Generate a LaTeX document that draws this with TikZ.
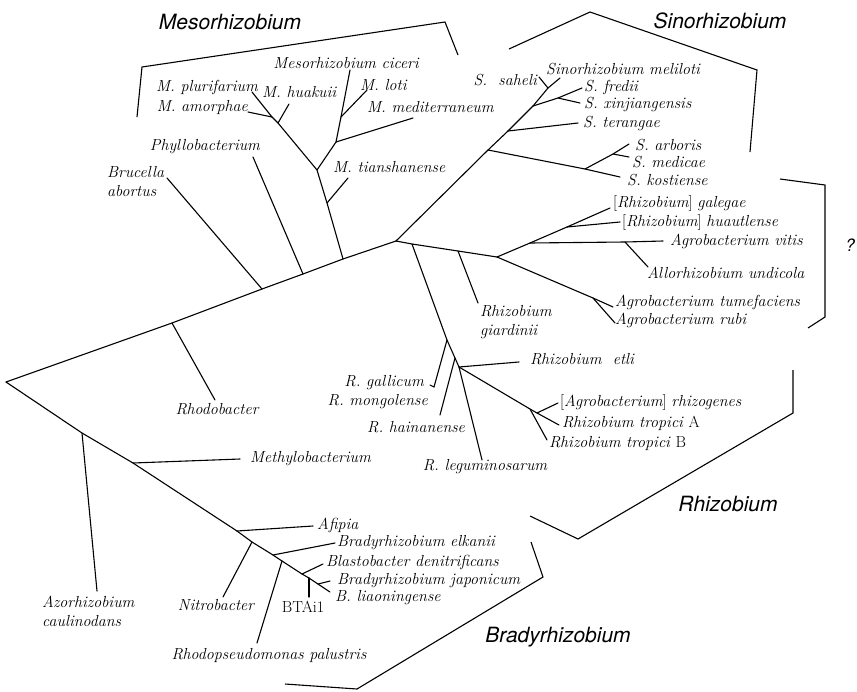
\documentclass[tikz,border=0pt]{standalone}
\usepackage{fontspec}
\setsansfont{TeX Gyre Heros}

\begin{document}
\begin{tikzpicture}[x=1pt, y=-1pt,
    branch/.style={line width=1.1pt, line cap=round},
    clade/.style={line width=1.1pt, line join=miter},
    taxon/.style={inner sep=0pt, font=\fontsize{16}{19}\selectfont\itshape},
    group/.style={inner sep=0pt, font=\fontsize{21}{24}\selectfont\sffamily\itshape}]
    \useasboundingbox (0,0) rectangle (857,691);

    % inner nodes of the tree
    \coordinate (root) at (6,382);
    \coordinate (rho) at (172,323);
    \coordinate (bru) at (262,289);
    \coordinate (phy) at (303,274);
    \coordinate (meso) at (343,259);
    \coordinate (hub) at (396,241);
    \coordinate (m1) at (327,203);
    \coordinate (m2) at (317,170);
    \coordinate (m3) at (336,142);
    \coordinate (m4) at (341,117);
    \coordinate (m5) at (278,123);
    \coordinate (m6) at (272,117);
    \coordinate (s1) at (488,150);
    \coordinate (s2) at (508,131);
    \coordinate (s3) at (533,106);
    \coordinate (s4) at (548,88);
    \coordinate (s5) at (558,98);
    \coordinate (s6) at (585,169);
    \coordinate (s7) at (613,154);
    \coordinate (r1) at (412,244);
    \coordinate (r2) at (447,340);
    \coordinate (r3) at (455,358);
    \coordinate (r4) at (459,367);
    \coordinate (r5) at (458,251);
    \coordinate (r6) at (497,257);
    \coordinate (rg) at (434,387);
    \coordinate (t1) at (530,409);
    \coordinate (t2) at (537,413);
    \coordinate (a1) at (593,298);
    \coordinate (a2) at (530,243);
    \coordinate (a3) at (567,227);
    \coordinate (a4) at (625,242);
    \coordinate (az) at (82,433);
    \coordinate (me) at (133,463);
    \coordinate (b1) at (237,531);
    \coordinate (b2) at (252,542);
    \coordinate (b3) at (273,555);
    \coordinate (b4) at (282,561);
    \coordinate (b5) at (302,574);
    \coordinate (b6) at (309,578);
    \coordinate (b7) at (318,584);

    % tips
    \coordinate (t-rho) at (215,400);
    \coordinate (t-bru) at (167,178);
    \coordinate (t-phy) at (253,157);
    \coordinate (t-tia) at (348,178);
    \coordinate (t-med) at (413,118);
    \coordinate (t-lot) at (367,90);
    \coordinate (t-cic) at (350,70);
    \coordinate (t-hua) at (289,104);
    \coordinate (t-amo) at (248,112);
    \coordinate (t-plu) at (252,92);
    \coordinate (t-sah) at (539,77);
    \coordinate (t-mel) at (560,78);
    \coordinate (t-fre) at (582,88);
    \coordinate (t-xin) at (580,103);
    \coordinate (t-ter) at (578,123);
    \coordinate (t-kos) at (620,177);
    \coordinate (t-arb) at (629,144);
    \coordinate (t-mdc) at (629,157);
    \coordinate (t-gia) at (478,303);
    \coordinate (t-gal) at (430,385);
    \coordinate (t-hai) at (440,415);
    \coordinate (t-etl) at (519,362);
    \coordinate (t-leg) at (482,460);
    \coordinate (t-rhg) at (558,403);
    \coordinate (t-tra) at (559,425);
    \coordinate (t-trb) at (547,440);
    \coordinate (t-tum) at (613,307);
    \coordinate (t-rub) at (615,323);
    \coordinate (t-gle) at (610,208);
    \coordinate (t-hut) at (620,222);
    \coordinate (t-vit) at (663,241);
    \coordinate (t-und) at (648,267);
    \coordinate (t-azo) at (97,591);
    \coordinate (t-met) at (240,459);
    \coordinate (t-afi) at (313,526);
    \coordinate (t-nit) at (223,597);
    \coordinate (t-elk) at (335,543);
    \coordinate (t-pal) at (257,643);
    \coordinate (t-bla) at (323,564);
    \coordinate (t-bta) at (309,597);
    \coordinate (t-jap) at (330,581);
    \coordinate (t-lia) at (330,592);

    % branches
    \draw[branch] (root) -- (rho) -- (bru) -- (phy) -- (meso) -- (hub);
    \draw[branch] (rho) -- (t-rho);
    \draw[branch] (bru) -- (t-bru);
    \draw[branch] (phy) -- (t-phy);
    \draw[branch] (meso) -- (m1) -- (m2) -- (m3) -- (m4) -- (t-cic);
    \draw[branch] (m1) -- (t-tia);
    \draw[branch] (m3) -- (t-med);
    \draw[branch] (m4) -- (t-lot);
    \draw[branch] (m2) -- (m5) -- (m6) -- (t-plu);
    \draw[branch] (m5) -- (t-hua);
    \draw[branch] (m6) -- (t-amo);
    \draw[branch] (hub) -- (s1) -- (s2) -- (s3) -- (s4) -- (t-mel);
    \draw[branch] (s4) -- (t-sah);
    \draw[branch] (s3) -- (s5) -- (t-fre);
    \draw[branch] (s5) -- (t-xin);
    \draw[branch] (s2) -- (t-ter);
    \draw[branch] (s1) -- (s6) -- (t-kos);
    \draw[branch] (s6) -- (s7) -- (t-arb);
    \draw[branch] (s7) -- (t-mdc);
    \draw[branch] (hub) -- (r1) -- (r5) -- (r6);
    \draw[branch] (r5) -- (t-gia);
    \draw[branch] (r1) -- (r2) -- (r3) -- (r4) -- (t-leg);
    \draw[branch] (r2) -- (rg) -- (t-gal);
    \draw[branch] (r3) -- (t-hai);
    \draw[branch] (r4) -- (t-etl);
    \draw[branch] (r4) -- (t1) -- (t2) -- (t-tra);
    \draw[branch] (t2) -- (t-rhg);
    \draw[branch] (t1) -- (t-trb);
    \draw[branch] (r6) -- (a1) -- (t-tum);
    \draw[branch] (a1) -- (t-rub);
    \draw[branch] (r6) -- (a2) -- (a3) -- (t-gle);
    \draw[branch] (a3) -- (t-hut);
    \draw[branch] (a2) -- (a4) -- (t-vit);
    \draw[branch] (a4) -- (t-und);
    \draw[branch] (root) -- (az) -- (me) -- (b1) -- (b2) -- (b3) -- (b4) -- (b5) -- (b6) -- (b7) -- (t-lia);
    \draw[branch] (az) -- (t-azo);
    \draw[branch] (me) -- (t-met);
    \draw[branch] (b1) -- (t-afi);
    \draw[branch] (b2) -- (t-nit);
    \draw[branch] (b3) -- (t-elk);
    \draw[branch] (b4) -- (t-pal);
    \draw[branch] (b5) -- (t-bla);
    \draw[branch] (b6) -- (t-bta);
    \draw[branch] (b7) -- (t-jap);

    % taxon names
    \node[taxon] (l-rho) at (217,409) {Rhodobacter};
    \node[taxon, align=left, anchor=west] (l-bru) at (107,182) {Brucella\\abortus};
    \node[taxon] (l-phy) at (205,147) {Phyllobacterium};
    \node[taxon, anchor=west] (l-tia) at (333,167) {M. tianshanense};
    \node[taxon, anchor=west] (l-med) at (367,107) {M. mediterraneum};
    \node[taxon, anchor=west] (l-lot) at (360,85) {M. loti};
    \node[taxon] (l-cic) at (346,63) {Mesorhizobium ciceri};
    \node[taxon, anchor=west] (l-hua) at (262,92) {M. huakuii};
    \node[taxon, anchor=east] (l-amo) at (248,107) {M. amorphae};
    \node[taxon, anchor=east] (l-plu) at (258,87) {M. plurifarium};
    \node[taxon, anchor=east] (l-sah) at (537,80) {S.\ \ saheli};
    \node[taxon, anchor=west] (l-mel) at (546,69) {Sinorhizobium meliloti};
    \node[taxon, anchor=west] (l-fre) at (584,87) {S. fredii};
    \node[taxon, anchor=west] (l-xin) at (584,104) {S. xinjiangensis};
    \node[taxon, anchor=west] (l-ter) at (583,123) {S. terangae};
    \node[taxon, anchor=west] (l-arb) at (635,145) {S. arboris};
    \node[taxon, anchor=west] (l-mdc) at (632,162) {S. medicae};
    \node[taxon, anchor=west] (l-kos) at (627,180) {S. kostiense};
    \node[taxon, anchor=west] (l-gle) at (613,203) {\upshape[\itshape Rhizobium\upshape] \itshape galegae};
    \node[taxon, anchor=west] (l-hut) at (622,222) {\upshape[\itshape Rhizobium\upshape] \itshape huautlense};
    \node[taxon, anchor=west] (l-vit) at (670,241) {Agrobacterium vitis};
    \node[taxon, anchor=west] (l-und) at (647,273) {Allorhizobium undicola};
    \node[taxon, anchor=west] (l-tum) at (615,302) {Agrobacterium tumefaciens};
    \node[taxon, anchor=west] (l-rub) at (615,320) {Agrobacterium rubi};
    \node[taxon, align=left, anchor=west] (l-gia) at (480,322) {Rhizobium\\giardinii};
    \node[taxon, anchor=west] (l-etl) at (530,359) {Rhizobium\ \ etli};
    \node[taxon, anchor=east] (l-gal) at (424,383) {R. gallicum};
    \node[taxon, anchor=east] (l-mon) at (428,402) {R. mongolense};
    \node[taxon] (l-hai) at (416,427) {R. hainanense};
    \node[taxon] (l-leg) at (485,467) {R. leguminosarum};
    \node[taxon, anchor=west] (l-rhg) at (560,402) {\upshape[\itshape Agrobacterium\upshape] \itshape rhizogenes};
    \node[taxon, anchor=west] (l-tra) at (562,423) {Rhizobium tropici \upshape A};
    \node[taxon, anchor=west] (l-trb) at (549,443) {Rhizobium tropici \upshape B};
    \node[taxon, align=left, anchor=west] (l-azo) at (42,611) {Azorhizobium\\caulinodans};
    \node[taxon, anchor=west] (l-met) at (250,459) {Methylobacterium};
    \node[taxon, anchor=west] (l-afi) at (317,525) {Afipia};
    \node[taxon] (l-nit) at (216,605) {Nitrobacter};
    \node[taxon, anchor=west] (l-elk) at (337,543) {Bradyrhizobium elkanii};
    \node[taxon] (l-pal) at (269,655) {Rhodopseudomonas palustris};
    \node[taxon, anchor=west] (l-bla) at (326,562) {Blastobacter denitrificans};
    \node[taxon] (l-bta) at (303,607) {\upshape BTAi1};
    \node[taxon, anchor=west] (l-jap) at (337,581) {Bradyrhizobium japonicum};
    \node[taxon, anchor=west] (l-lia) at (335,598) {B. liaoningense};

    % genus brackets
    \draw[clade] (137,117) -- (142,67) -- (445,22) -- (458,55);
    \draw[clade] (509,49) -- (590,12) -- (757,70) -- (750,152);
    \draw[clade] (780,179) -- (825,185) -- (825,317) -- (808,328);
    \draw[clade] (793,370) -- (793,413) -- (578,539) -- (530,516);
    \draw[clade] (531,542) -- (543,577) -- (357,689) -- (285,684);
    \node[group] (g-meso) at (230,22) {Mesorhizobium};
    \node[group] (g-sino) at (720,21) {Sinorhizobium};
    \node[group, font=\fontsize{17}{20}\selectfont\sffamily\itshape] (g-unk) at (850,245) {?};
    \node[group] (g-rhiz) at (728,504) {Rhizobium};
    \node[group] (g-brady) at (558,637) {Bradyrhizobium};
\end{tikzpicture}
\end{document}
